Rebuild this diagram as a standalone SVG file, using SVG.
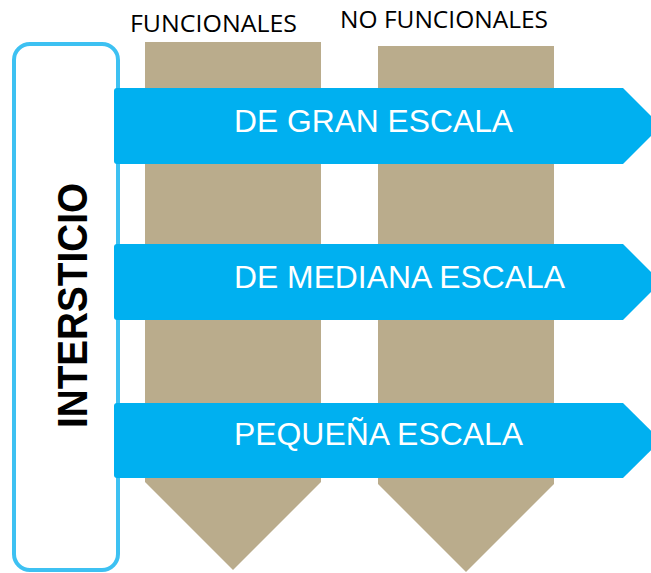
<svg xmlns="http://www.w3.org/2000/svg" width="651" height="573" viewBox="0 0 651 573">
<style>
.col{fill:#BAAC8C}
.band{fill:#00B0F0}
.bt{font-family:"Liberation Sans",Arial,sans-serif;font-size:32px;fill:#FFFFFF}
.hd{font-family:"Open Sans","Liberation Sans",Arial,sans-serif;font-size:24.5px;fill:#000000}
.vt{font-family:"Liberation Sans",Arial,sans-serif;font-size:43px;font-weight:bold;fill:#000000}
</style>
<rect width="651" height="573" fill="#FFFFFF"/>
<g id="intersticio">
<rect x="14" y="44" width="104" height="526" rx="16" ry="16" fill="#FFFFFF" stroke="#3DC1F2" stroke-width="4"/>
<text class="vt" transform="translate(87,305.5) rotate(-90)" text-anchor="middle" textLength="245" lengthAdjust="spacingAndGlyphs">INTERSTICIO</text>
</g>
<g id="funcionales">
<text class="hd" x="130" y="32" textLength="167" lengthAdjust="spacingAndGlyphs">FUNCIONALES</text>
<polygon class="col" points="145,42 321,42 321,482 233,570 145,482"/>
</g>
<g id="no-funcionales">
<text class="hd" x="340" y="28" textLength="208" lengthAdjust="spacingAndGlyphs">NO FUNCIONALES</text>
<polygon class="col" points="378,46 554,46 554,484 466,572 378,484"/>
</g>
<g id="gran-escala">
<path class="band" d="M117,88 H623 L661,126 L623,164 H117 Q114,164 114,161 V91 Q114,88 117,88 Z"/>
<text class="bt" x="234" y="132" textLength="279" lengthAdjust="spacingAndGlyphs">DE GRAN ESCALA</text>
</g>
<g id="mediana-escala">
<path class="band" d="M117,244 H623 L661,282 L623,320 H117 Q114,320 114,317 V247 Q114,244 117,244 Z"/>
<text class="bt" x="234" y="288" textLength="331" lengthAdjust="spacingAndGlyphs">DE MEDIANA ESCALA</text>
</g>
<g id="pequena-escala">
<path class="band" d="M117,403 H623 L661,440.5 L623,478 H117 Q114,478 114,475 V406 Q114,403 117,403 Z"/>
<text class="bt" x="234" y="445" textLength="289" lengthAdjust="spacingAndGlyphs">PEQUEÑA ESCALA</text>
</g>
<g id="connectors"/>
</svg>
